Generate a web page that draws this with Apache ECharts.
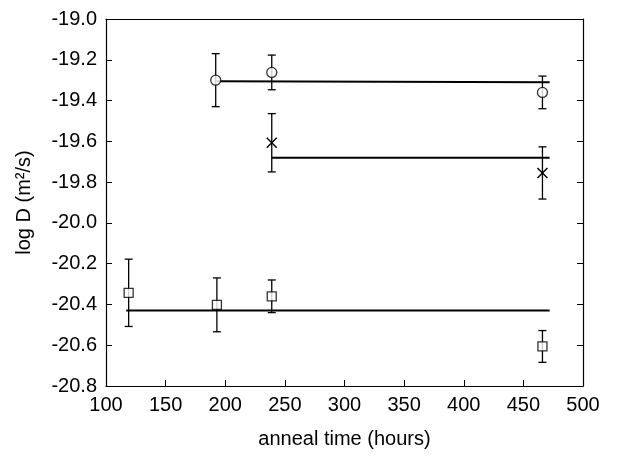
<!DOCTYPE html>
<html>
<head>
<meta charset="utf-8">
<script src="https://cdn.jsdelivr.net/npm/echarts@6/dist/echarts.min.js"></script>
<style>html,body{margin:0;padding:0;background:#fff}#c{width:618px;height:456px}</style>
</head>
<body>
<div id="c"></div>
<script>
// ---- data ----
var xTicks = [100, 150, 200, 250, 300, 350, 400, 450, 500];
var yTicks = [-20.8, -20.6, -20.4, -20.2, -20.0, -19.8, -19.6, -19.4, -19.2, -19.0];

var ybHours = [192, 239, 466];
var ybLogD  = [-19.30, -19.262, -19.36];
var ybErr   = [0.13, 0.085, 0.08];

var dyHours = [239, 466];
var dyLogD  = [-19.607, -19.755];
var dyErr   = [0.143, 0.128];

var ceHours = [119, 193, 239, 466];
var ceLogD  = [-20.343, -20.402, -20.36, -20.606];
var ceErr   = [0.165, 0.132, 0.08, 0.078];

var ybFitHours = [193, 472];
var ybFitLogD  = [-19.305, -19.31];
var dyFitHours = [239, 472];
var dyFitLogD  = [-19.68, -19.68];
var ceFitHours = [117, 472];
var ceFitLogD  = [-20.43, -20.43];

var elementNames = ['Yb', 'Dy', 'Ce'];
var labelHours   = [339.6, 338, 338];
var labelLogD    = [-19.222, -19.593, -20.348];

// ---- build ----
var FONT = 'Liberation Sans, Arial, sans-serif';
function zip(a, b) { return a.map(function (v, i) { return [v, b[i]]; }); }
function errData(h, v, e) { return h.map(function (x, i) { return [x, v[i] - e[i], v[i] + e[i]]; }); }

function errSeries(h, v, e) {
  return {
    type: 'custom',
    data: errData(h, v, e),
    encode: { x: 0, y: [1, 2] },
    z: 3,
    silent: true,
    renderItem: function (params, api) {
      var lo = api.coord([api.value(0), api.value(1)]);
      var hi = api.coord([api.value(0), api.value(2)]);
      var w = 4;
      var st = { stroke: '#000', lineWidth: 1.3 };
      return {
        type: 'group',
        children: [
          { type: 'line', shape: { x1: lo[0], y1: lo[1], x2: hi[0], y2: hi[1] }, style: st },
          { type: 'line', shape: { x1: lo[0] - w, y1: lo[1], x2: lo[0] + w, y2: lo[1] }, style: st },
          { type: 'line', shape: { x1: hi[0] - w, y1: hi[1], x2: hi[0] + w, y2: hi[1] }, style: st }
        ]
      };
    }
  };
}
function pointSeries(h, v, symbol, size) {
  return {
    type: 'scatter',
    data: zip(h, v),
    symbol: symbol,
    symbolSize: size,
    z: 4,
    itemStyle: { color: '#fff', borderColor: '#000', borderWidth: 1.3 },
    silent: true
  };
}
function crossSeries(h, v) {
  return {
    type: 'custom',
    data: zip(h, v),
    z: 4,
    silent: true,
    renderItem: function (params, api) {
      var p = api.coord([api.value(0), api.value(1)]);
      var r = 5;
      var st = { stroke: '#000', lineWidth: 1.4 };
      return {
        type: 'group',
        children: [
          { type: 'line', shape: { x1: p[0] - r, y1: p[1] - r, x2: p[0] + r, y2: p[1] + r }, style: st },
          { type: 'line', shape: { x1: p[0] - r, y1: p[1] + r, x2: p[0] + r, y2: p[1] - r }, style: st }
        ]
      };
    }
  };
}
function fitSeries(h, v) {
  return {
    type: 'line',
    data: zip(h, v),
    symbol: 'none',
    z: 2,
    lineStyle: { color: '#000', width: 2 },
    silent: true
  };
}

var axisCommon = {
  axisLine: { show: true, lineStyle: { color: '#000', width: 1.2 } },
  axisTick: { show: true, inside: true, length: 6, lineStyle: { color: '#000' } },
  splitLine: { show: false }
};

var option = {
  animation: false,
  backgroundColor: '#fff',
  textStyle: { fontFamily: FONT, color: '#000' },
  grid: { left: 106, right: 35, top: 19, bottom: 70 },
  xAxis: [
    Object.assign({
      type: 'value', min: xTicks[0], max: xTicks[xTicks.length - 1], interval: 50,
      name: 'anneal time (hours)', nameLocation: 'middle', nameGap: 43,
      nameTextStyle: { fontSize: 20, color: '#000', fontFamily: FONT },
      axisLabel: { fontSize: 20, color: '#000', fontFamily: FONT, margin: 9 }
    }, axisCommon),
    Object.assign({
      type: 'value', position: 'top', min: xTicks[0], max: xTicks[xTicks.length - 1], interval: 50,
      axisLabel: { show: false }
    }, axisCommon, { axisTick: { show: false } })
  ],
  yAxis: [
    Object.assign({
      type: 'value', min: yTicks[0], max: yTicks[yTicks.length - 1], interval: 0.2,
      name: 'log D (m\u00b2/s)', nameLocation: 'middle', nameGap: 72, nameRotate: 90,
      nameTextStyle: { fontSize: 20, color: '#000', fontFamily: FONT },
      axisLabel: { fontSize: 20, color: '#000', fontFamily: FONT, margin: 9,
        formatter: function (v) { return v.toFixed(1); } }
    }, axisCommon),
    Object.assign({
      type: 'value', position: 'right', min: yTicks[0], max: yTicks[yTicks.length - 1], interval: 0.2,
      axisLabel: { show: false }
    }, axisCommon)
  ],
  series: [
    fitSeries(ybFitHours, ybFitLogD),
    fitSeries(dyFitHours, dyFitLogD),
    fitSeries(ceFitHours, ceFitLogD),
    errSeries(ybHours, ybLogD, ybErr),
    errSeries(dyHours, dyLogD, dyErr),
    errSeries(ceHours, ceLogD, ceErr),
    pointSeries(ybHours, ybLogD, 'circle', 10),
    crossSeries(dyHours, dyLogD),
    pointSeries(ceHours, ceLogD, 'rect', 9),
    {
      type: 'scatter',
      data: elementNames.map(function (n, i) { return { value: [labelHours[i], labelLogD[i]], name: n }; }),
      symbol: 'none',
      silent: true,
      z: 5,
      label: {
        show: true, position: 'inside',
        formatter: function (p) { return p.name; },
        fontSize: 20, color: '#000', fontFamily: FONT
      }
    }
  ]
};
echarts.init(document.getElementById('c')).setOption(option);
</script>
</body>
</html>
